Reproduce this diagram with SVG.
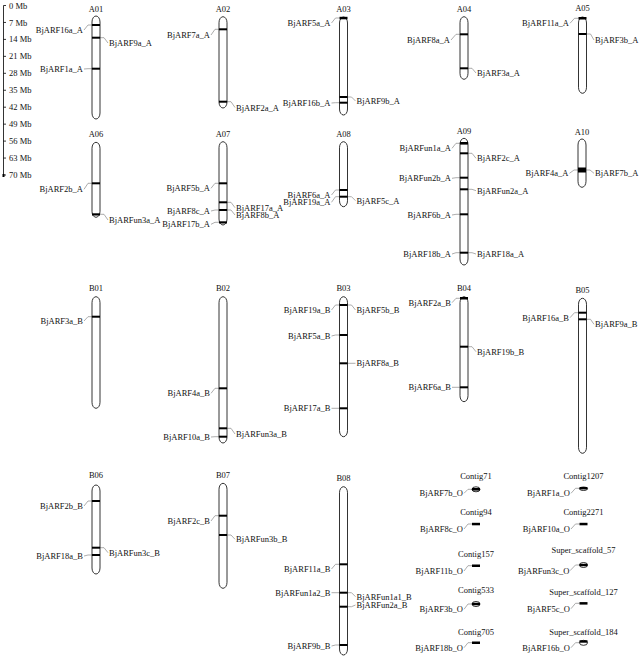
<svg xmlns="http://www.w3.org/2000/svg" width="641" height="659" viewBox="0 0 641 659">
<style>
text{font-family:"Liberation Serif","Times New Roman",serif;font-size:8.5px;fill:#111}
.c{text-anchor:middle}
.e{text-anchor:end}
.chr{fill:#fff;stroke:#000;stroke-width:0.8}
.b{fill:#000}
.con path{fill:none;stroke:#8a8a8a;stroke-width:0.7}
.rul{stroke:#000;stroke-width:0.8;fill:none}
</style>
<rect width="641" height="659" fill="#fff"/>
<g id="ruler">
<path class="rul" d="M3.5 5.5V175.5M3.5 5.5H6M3.5 22.45H6M3.5 39.4H6M3.5 56.35H6M3.5 73.3H6M3.5 90.25H6M3.5 107.2H6M3.5 124.15H6M3.5 141.1H6M3.5 158.05H6M3.5 175H6"/>
<rect x="2.5" y="174" width="2" height="3" fill="#000"/>
<text x="9" y="8.5">0 Mb</text><text x="9" y="25.5">7 Mb</text><text x="9" y="42.4">14 Mb</text><text x="9" y="59.4">21 Mb</text><text x="9" y="76.3">28 Mb</text><text x="9" y="93.3">35 Mb</text><text x="9" y="110.2">42 Mb</text><text x="9" y="127.2">49 Mb</text><text x="9" y="144.1">56 Mb</text><text x="9" y="161.1">63 Mb</text><text x="9" y="178">70 Mb</text>
</g>
<g id="connectors" class="con">
<path d="M84 30L88 25H92M100 37.7H104L108 43M84 69L88 68.7H92"/>
<path d="M211 35L215 29.3H219M227 101.7H231L235 107.5"/>
<path d="M331.5 23L335.5 18H339.5M331.5 103L335.5 102.7H339.5M347.5 97H351.5L355.5 101"/>
<path d="M451 40L456 34.3H460M468 68.3H472L476 73"/>
<path d="M570 23.3L574.5 18.3H578.5M586.5 34H590.5L594 40"/>
<path d="M84 189.3L88 183.3H92M100 214.3H104L108 220"/>
<path d="M211 188.3L215 183.3H219M211 211L215 210H219M211 224.3L215 222.3H219M227 202.3H231L235 207.7M227 210H231L235 215"/>
<path d="M331.5 195L335.5 190H339.5M331.5 202.3L335.5 196.7H339.5M347.5 196.7H351.5L355.5 200.7"/>
<path d="M452 148.3L456 143.3H460M468 153.3H472L476 158.3M452 178.3L456 177.7H460M468 189.3H472L476 190.7M452 215L456 214.3H460M452 254L456 252.7H460M468 252.7H472L476 254"/>
<path d="M569.5 173.3L574 170H578M586 170H590L594 173.3"/>
<path d="M84 321L88 316.7H92"/>
<path d="M211 393.3L215 388.3H219M227 428.3H231L235 434M211 437L215 436.7H219"/>
<path d="M331.5 310L335.5 305H339.5M347.5 305H351.5L355.5 310M331.5 336L335.5 335H339.5M347.5 363.3H355.5M331.5 408.3H339.5"/>
<path d="M452 302.7L456 298.3H460M468 346.7H472L476 351.7M452 387.3H460"/>
<path d="M570 317.7L574.5 312.7H578.5M586.5 319.3H590.5L594 324.3"/>
<path d="M84 506L88 501H92M100 547.7H104L108 552.7M84 556L88 555H92"/>
<path d="M211 521L215 515.7H219M227 535H231L235 539.3"/>
<path d="M331.5 569L335.5 564.3H339.5M331.5 592.7H339.5M347.5 592.7H351.5L355.5 596.7M347.5 606.7H351.5L355.5 605M331.5 646L335.5 645H339.5"/>
<path d="M464 493.3L468 489.3H472M464 529L468 524H472M464 571L468 565.7H472M464 609.3L468 604H472M464 647.7L468 642.7H472"/>
<path d="M571 493.3L575.5 488.3H579.5M571 529L575.5 524H579.5M570 570.7L575.5 565H579.5M571 608.7L575.5 603.3H579.5M571 647.7L575.5 642.7H579.5"/>
</g>
<g id="A01"><text class="c" x="96" y="12">A01</text><rect class="chr" x="92" y="16" width="8" height="103" rx="4" ry="6"/><rect class="b" x="92" y="24" width="8" height="2"/><rect class="b" x="92" y="36.7" width="8" height="2"/><rect class="b" x="92" y="67.7" width="8" height="2"/><text class="e" x="83" y="33">BjARF16a_A</text><text x="109" y="46">BjARF9a_A</text><text class="e" x="83" y="72">BjARF1a_A</text></g>
<g id="A02"><text class="c" x="223" y="12">A02</text><rect class="chr" x="219" y="16.7" width="8" height="91.3" rx="4" ry="6"/><rect class="b" x="219" y="28.3" width="8" height="2"/><rect class="b" x="219" y="100.7" width="8" height="2"/><text class="e" x="210" y="38">BjARF7a_A</text><text x="236" y="110.5">BjARF2a_A</text></g>
<g id="A03"><text class="c" x="343.5" y="12">A03</text><rect class="chr" x="339.5" y="17" width="8" height="98" rx="4" ry="6"/><rect class="b" x="339.5" y="16.8" width="8" height="2.5"/><rect class="b" x="339.5" y="96" width="8" height="2"/><rect class="b" x="339.5" y="101.7" width="8" height="2"/><text class="e" x="330.5" y="26">BjARF5a_A</text><text class="e" x="330.5" y="106">BjARF16b_A</text><text x="356.5" y="104">BjARF9b_A</text></g>
<g id="A04"><text class="c" x="464" y="12">A04</text><rect class="chr" x="460" y="16.7" width="8" height="62.6" rx="4" ry="6"/><rect class="b" x="460" y="33.3" width="8" height="2"/><rect class="b" x="460" y="67.3" width="8" height="2"/><text class="e" x="450" y="43">BjARF8a_A</text><text x="477" y="76">BjARF3a_A</text></g>
<g id="A05"><text class="c" x="582.5" y="10.5">A05</text><rect class="chr" x="578.5" y="17" width="8" height="76.3" rx="4" ry="6"/><rect class="b" x="578.5" y="17" width="8" height="2.5"/><rect class="b" x="578.5" y="33" width="8" height="2"/><text class="e" x="569" y="26.3">BjARF11a_A</text><text x="595" y="43">BjARF3b_A</text></g>
<g id="A06"><text class="c" x="96" y="136.5">A06</text><rect class="chr" x="92" y="142.3" width="8" height="75" rx="4" ry="6"/><rect class="b" x="92" y="182.3" width="8" height="2"/><rect class="b" x="92" y="213.3" width="8" height="2.2"/><text class="e" x="83" y="192.3">BjARF2b_A</text><text x="109" y="223">BjARFun3a_A</text></g>
<g id="A07"><text class="c" x="223" y="137">A07</text><rect class="chr" x="219" y="141.7" width="8" height="83.3" rx="4" ry="6"/><rect class="b" x="219" y="182.3" width="8" height="2"/><rect class="b" x="219" y="201.3" width="8" height="2"/><rect class="b" x="219" y="209" width="8" height="2"/><rect class="b" x="219" y="221.3" width="8" height="2.2"/><text class="e" x="210" y="191.3">BjARF5b_A</text><text class="e" x="210" y="214">BjARF8c_A</text><text class="e" x="210" y="227.3">BjARF17b_A</text><text x="236" y="210.7">BjARF17a_A</text><text x="236" y="218">BjARF8b_A</text></g>
<g id="A08"><text class="c" x="343.5" y="137">A08</text><rect class="chr" x="339.5" y="141.7" width="8" height="65" rx="4" ry="6"/><rect class="b" x="339.5" y="189" width="8" height="2"/><rect class="b" x="339.5" y="195.7" width="8" height="2"/><text class="e" x="330.5" y="198">BjARF6a_A</text><text class="e" x="330.5" y="205.3">BjARF19a_A</text><text x="356.5" y="203.7">BjARF5c_A</text></g>
<g id="A09"><text class="c" x="464" y="134">A09</text><rect class="chr" x="460" y="138.3" width="8" height="126.7" rx="4" ry="6"/><rect class="b" x="460" y="142" width="8" height="2.6"/><rect class="b" x="460" y="152.3" width="8" height="2"/><rect class="b" x="460" y="176.7" width="8" height="2"/><rect class="b" x="460" y="188.3" width="8" height="2"/><rect class="b" x="460" y="213.3" width="8" height="2"/><rect class="b" x="460" y="251.7" width="8" height="2"/><text class="e" x="451" y="151.3">BjARFun1a_A</text><text x="477" y="161.3">BjARF2c_A</text><text class="e" x="451" y="181.3">BjARFun2b_A</text><text x="477" y="193.7">BjARFun2a_A</text><text class="e" x="451" y="218">BjARF6b_A</text><text class="e" x="451" y="257">BjARF18b_A</text><text x="477" y="257">BjARF18a_A</text></g>
<g id="A10"><text class="c" x="582" y="134.7">A10</text><rect class="chr" x="578" y="139" width="8" height="48.3" rx="4" ry="6"/><rect class="b" x="578" y="167.5" width="8" height="5"/><text class="e" x="568.5" y="176.3">BjARF4a_A</text><text x="595" y="176.3">BjARF7b_A</text></g>
<g id="B01"><text class="c" x="96" y="291.3">B01</text><rect class="chr" x="92" y="296.7" width="8" height="111.6" rx="4" ry="6"/><rect class="b" x="92" y="315.7" width="8" height="2"/><text class="e" x="83" y="324">BjARF3a_B</text></g>
<g id="B02"><text class="c" x="223" y="291">B02</text><rect class="chr" x="219" y="296.7" width="8" height="146.3" rx="4" ry="6"/><rect class="b" x="219" y="387.3" width="8" height="2"/><rect class="b" x="219" y="427.3" width="8" height="2"/><rect class="b" x="219" y="435.7" width="8" height="2"/><text class="e" x="210" y="396.3">BjARF4a_B</text><text x="236" y="437">BjARFun3a_B</text><text class="e" x="210" y="440">BjARF10a_B</text></g>
<g id="B03"><text class="c" x="343.5" y="291">B03</text><rect class="chr" x="339.5" y="296.7" width="8" height="140" rx="4" ry="6"/><rect class="b" x="339.5" y="304" width="8" height="2"/><rect class="b" x="339.5" y="334" width="8" height="2"/><rect class="b" x="339.5" y="362.3" width="8" height="2"/><rect class="b" x="339.5" y="407.3" width="8" height="2"/><text class="e" x="330.5" y="313">BjARF19a_B</text><text x="356.5" y="313">BjARF5b_B</text><text class="e" x="330.5" y="339">BjARF5a_B</text><text x="356.5" y="366.3">BjARF8a_B</text><text class="e" x="330.5" y="411.3">BjARF17a_B</text></g>
<g id="B04"><text class="c" x="464" y="291">B04</text><rect class="chr" x="460" y="296.7" width="8" height="105" rx="4" ry="6"/><rect class="b" x="460" y="297" width="8" height="2.5"/><rect class="b" x="460" y="345.7" width="8" height="2"/><rect class="b" x="460" y="386.3" width="8" height="2"/><text class="e" x="451" y="305.7">BjARF2a_B</text><text x="477" y="354.7">BjARF19b_B</text><text class="e" x="451" y="390.3">BjARF6a_B</text></g>
<g id="B05"><text class="c" x="582.5" y="293">B05</text><rect class="chr" x="578.5" y="298.3" width="8" height="155" rx="4" ry="6"/><rect class="b" x="578.5" y="311.7" width="8" height="2"/><rect class="b" x="578.5" y="318.3" width="8" height="2"/><text class="e" x="569" y="320.7">BjARF16a_B</text><text x="595" y="327.3">BjARF9a_B</text></g>
<g id="B06"><text class="c" x="96" y="478">B06</text><rect class="chr" x="92" y="485" width="8" height="89" rx="4" ry="6"/><rect class="b" x="92" y="500" width="8" height="2"/><rect class="b" x="92" y="546.7" width="8" height="2"/><rect class="b" x="92" y="554" width="8" height="2"/><text class="e" x="83" y="509">BjARF2b_B</text><text x="109" y="555.7">BjARFun3c_B</text><text class="e" x="83" y="559">BjARF18a_B</text></g>
<g id="B07"><text class="c" x="223" y="478">B07</text><rect class="chr" x="219" y="483.3" width="8" height="105" rx="4" ry="6"/><rect class="b" x="219" y="514.7" width="8" height="2"/><rect class="b" x="219" y="534" width="8" height="2"/><text class="e" x="210" y="524">BjARF2c_B</text><text x="236" y="542.3">BjARFun3b_B</text></g>
<g id="B08"><text class="c" x="343.5" y="481.3">B08</text><rect class="chr" x="339.5" y="486.7" width="8" height="168.3" rx="4" ry="6"/><rect class="b" x="339.5" y="563.3" width="8" height="2"/><rect class="b" x="339.5" y="591.7" width="8" height="2"/><rect class="b" x="339.5" y="605.7" width="8" height="2"/><rect class="b" x="339.5" y="644" width="8" height="2"/><text class="e" x="330.5" y="572">BjARF11a_B</text><text class="e" x="330.5" y="595.7">BjARFun1a2_B</text><text x="356.5" y="599.7">BjARFun1a1_B</text><text x="356.5" y="608">BjARFun2a_B</text><text class="e" x="330.5" y="649">BjARF9b_B</text></g>
<g id="Contig71"><text class="c" x="476" y="479">Contig71</text><rect class="chr" x="472" y="486.8" width="8" height="5" rx="4" ry="2.5"/><rect class="b" x="472" y="488" width="8" height="2.6"/><text class="e" x="463" y="496.3">BjARF7b_O</text></g>
<g id="Contig94"><text class="c" x="476" y="515.3">Contig94</text><rect class="b" x="472" y="522.8" width="8" height="2.5"/><text class="e" x="463" y="532">BjARF8c_O</text></g>
<g id="Contig157"><text class="c" x="476" y="557.3">Contig157</text><rect class="b" x="472" y="564.5" width="8" height="2.5"/><text class="e" x="463" y="574">BjARF11b_O</text></g>
<g id="Contig533"><text class="c" x="476" y="593">Contig533</text><rect class="chr" x="472" y="601.5" width="8" height="5" rx="4" ry="2.5"/><rect class="b" x="472" y="602.8" width="8" height="2.4"/><text class="e" x="463" y="612.3">BjARF3b_O</text></g>
<g id="Contig705"><text class="c" x="476" y="634.7">Contig705</text><rect class="b" x="472" y="641.5" width="8" height="2.5"/><text class="e" x="463" y="650.7">BjARF18b_O</text></g>
<g id="Contig1207"><text class="c" x="583.5" y="479">Contig1207</text><rect class="chr" x="579.5" y="487" width="8" height="3.5" rx="4" ry="1.7"/><rect class="b" x="579.5" y="487" width="8" height="2.4"/><text class="e" x="570" y="496.3">BjARF1a_O</text></g>
<g id="Contig2271"><text class="c" x="583.5" y="515.3">Contig2271</text><rect class="b" x="579.5" y="522.8" width="8" height="2.5"/><text class="e" x="570" y="532">BjARF10a_O</text></g>
<g id="Super_scaffold_57"><text class="c" x="583.5" y="553">Super_scaffold_57</text><rect class="chr" x="579.5" y="562.5" width="8" height="5" rx="4" ry="2.5"/><rect class="b" x="579.5" y="563.8" width="8" height="2.4"/><text class="e" x="569.5" y="573.7">BjARFun3c_O</text></g>
<g id="Super_scaffold_127"><text class="c" x="583.5" y="594.7">Super_scaffold_127</text><rect class="b" x="579.5" y="602.1" width="8" height="2.5"/><text class="e" x="570" y="611.7">BjARF5c_O</text></g>
<g id="Super_scaffold_184"><text class="c" x="583.5" y="634.7">Super_scaffold_184</text><rect class="chr" x="579.5" y="640.3" width="8" height="5" rx="4" ry="2.5"/><rect class="b" x="579.5" y="640.3" width="8" height="2.4"/><text class="e" x="570" y="650.7">BjARF16b_O</text></g>
</svg>
